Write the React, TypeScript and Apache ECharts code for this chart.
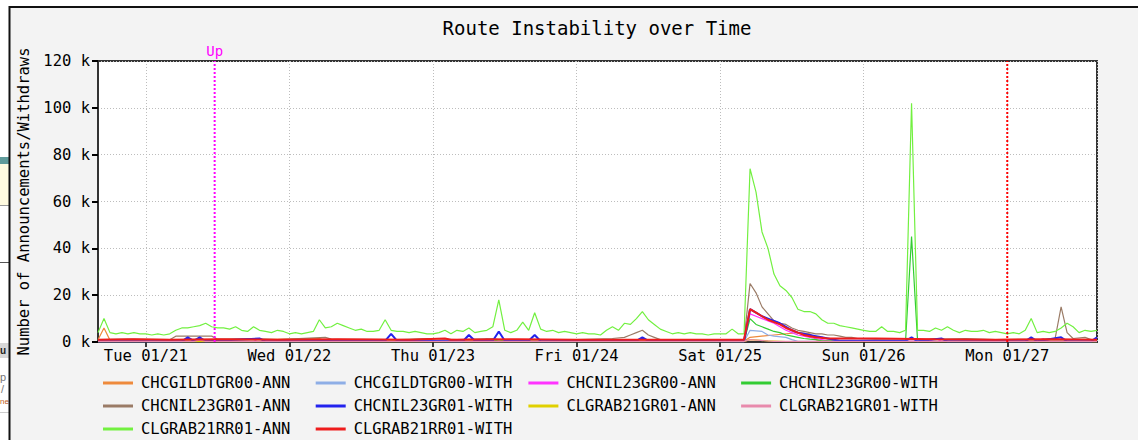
import React, { useEffect, useRef } from 'react';
import * as echarts from 'echarts';

const FONT = "'DejaVu Sans Mono', monospace";
const HOUR = 3600000;
const T0 = Date.UTC(2003, 0, 20, 16, 0); // Mon 01/20 16:00, left edge
const T_END = T0 + 167 * HOUR;
const UP_TIME = Date.UTC(2003, 0, 21, 11, 30);
const NOW_TIME = Date.UTC(2003, 0, 27, 0, 0);
const DAY_NAMES = ['Sun', 'Mon', 'Tue', 'Wed', 'Thu', 'Fri', 'Sat'];

const TITLE = 'Route Instability over Time';
const Y_NAME = 'Number of Announcements/Withdraws';
const Y_MAX = 120;
const Y_STEP = 20;

const SERIES_NAMES = [
  'CHCGILDTGR00-ANN', 'CHCGILDTGR00-WITH', 'CHCNIL23GR00-ANN', 'CHCNIL23GR00-WITH',
  'CHCNIL23GR01-ANN', 'CHCNIL23GR01-WITH', 'CLGRAB21GR01-ANN', 'CLGRAB21GR01-WITH',
  'CLGRAB21RR01-ANN', 'CLGRAB21RR01-WITH',
];
const SERIES_COLORS = [
  '#ee8a3c', '#8eaee6', '#ff33ff', '#33cc33',
  '#9a7b66', '#2222ee', '#e0d000', '#e88aac',
  '#72f040', '#ee1c1c',
];

// values in thousands; sparse samples [hour from left edge, value]
const chcgildtgr00Ann = [[0, 1], [1, 6], [2, 0.8], [12, 0.5], [37, 1.5], [38, 0.5], [65, 0.5], [66, 1], [67, 0.5], [108, 0.3], [109, 2], [113, 3], [117, 4], [119, 3.5], [120, 1], [121, 0.3], [167, 0.3]];
const chcgildtgr00With = [[0, 0.2], [108, 0.2], [109, 5], [111, 4.5], [112, 3], [113, 2.5], [115, 2], [116, 1], [117, 0.3], [167, 0.2]];
const chcnil23gr00Ann = [[0, 0.3], [26, 0.3], [27, 1.5], [28, 0.3], [64, 0.3], [65, 1.5], [66, 0.3], [108, 0.3], [109, 12], [110, 11], [111, 10], [112, 9], [113, 8], [114, 6.5], [115, 5], [116, 4], [117, 3], [118, 2.5], [119, 2], [120, 1.5], [121, 1], [122, 0.5], [139, 0.3], [140, 1.5], [141, 0.3], [157, 0.3], [158, 1.5], [159, 0.3], [167, 0.3]];
const chcnil23gr00With = [[0, 0.3], [66, 0.3], [67, 1], [68, 0.3], [108, 0.3], [109, 10], [110, 7.5], [111, 6.5], [112, 5.5], [113, 4.5], [114, 4], [115, 3], [116, 2.5], [117, 2], [118, 1.5], [119, 1.2], [120, 1], [121, 0.5], [135, 0.5], [136, 45], [137, 0.8], [141, 1.5], [142, 0.3], [167, 0.3]];
const chcnil23gr01Ann = [[0, 1], [5, 1.2], [12, 1], [13, 2.5], [19, 2.5], [20, 1.2], [26, 1.5], [30, 1], [38, 2], [39, 1.2], [50, 1], [55, 1.5], [60, 1], [66, 1.5], [67, 1], [80, 1], [86, 1.5], [88, 2], [89, 3], [90, 4], [91, 5], [92, 3], [93, 2], [94, 1], [108, 1], [109, 25], [110, 21], [111, 15], [112, 12], [113, 9], [114, 8], [115, 7.5], [116, 6], [117, 5], [118, 4.5], [119, 4], [120, 3.5], [121, 3.5], [122, 3], [123, 3], [124, 2.5], [125, 2], [126, 2], [127, 1.5], [130, 1.2], [136, 1.5], [137, 1], [145, 1.5], [150, 1], [158, 1.2], [160, 1.5], [161, 15], [162, 4], [163, 1.5], [165, 2], [166, 1], [167, 1]];
const chcnil23gr01With = [[0, 0.3], [14, 0.3], [15, 2], [16, 0.5], [17, 2], [18, 0.3], [27, 1.5], [28, 0.3], [48, 0.5], [49, 3.5], [50, 0.5], [61, 0.3], [62, 3], [63, 0.5], [66, 0.5], [67, 4.5], [68, 0.5], [72, 0.5], [73, 3], [74, 0.3], [90, 0.5], [91, 2], [92, 0.5], [108, 0.3], [109, 14], [110, 12.5], [111, 11], [112, 10], [113, 9], [114, 8], [115, 6.5], [116, 5], [117, 4], [118, 3.5], [119, 3], [120, 2.5], [121, 2], [122, 1.5], [123, 1], [124, 0.5], [135, 0.5], [136, 2], [137, 0.3], [141, 1.5], [142, 0.3], [155, 0.3], [156, 2], [157, 0.3], [161, 2], [162, 0.3], [166, 0.3], [167, 2]];
const clgrab21gr01Ann = [[0, 0.2], [108, 0.2], [109, 1], [112, 0.5], [115, 0.2], [167, 0.2]];
const clgrab21gr01With = [[0, 0.3], [16, 0.3], [17, 0.8], [18, 0.3], [108, 0.3], [109, 1], [113, 0.3], [167, 0.3]];
// hourly samples h0..h167
const clgrab21rr01Ann = [
  4, 10, 4, 3.5, 4, 3.5, 4, 3.5,
  3.5, 3, 3.5, 3, 3.5, 5, 6, 6,
  6.5, 7, 8, 6.5, 6, 6, 5.5, 6.5,
  5, 4.5, 6.5, 5, 4.5, 4, 5, 4.5,
  3.5, 4, 3.5, 4, 4.5, 9.5, 6, 6.5,
  8, 7, 6, 5, 5.5, 4.5, 4.5, 5,
  9.5, 5, 4.5, 4.5, 4, 4.5, 4, 3.5,
  3.5, 4, 5, 3.5, 5, 4.5, 6, 4,
  4.5, 5, 6.5, 18, 5, 4, 5, 8.5,
  5, 12.5, 5.5, 4.5, 5, 4, 4.5, 4,
  3.5, 4, 3.5, 3.5, 3, 5, 6.5, 5,
  8, 7.5, 10, 13, 9.5, 7.5, 5.5, 4.5,
  3.5, 4, 3.5, 4, 3.5, 3.5, 3, 3.5,
  3.5, 3.5, 5.5, 3.5, 3.5, 74, 64, 47,
  40, 29, 24, 22, 19, 14, 13, 13,
  12, 9.5, 8, 8, 7, 6.5, 6, 5.5,
  5, 4.5, 4.5, 6.5, 4.5, 4.5, 4, 5,
  102, 5, 5, 4.5, 6, 5, 6.5, 5,
  4, 5, 4.5, 4.5, 5, 4, 4.5, 4,
  3.5, 4, 3.5, 5, 10, 4, 4.5, 4,
  4.5, 6, 8, 6.5, 4, 5, 4.5, 5,
];
const clgrab21rr01With = [[0, 1], [6, 1.2], [12, 1], [20, 1.2], [30, 1], [40, 1.2], [52, 1], [58, 1.5], [59, 1], [70, 1.2], [80, 1], [95, 1], [104, 1], [108, 1], [109, 14], [110, 12.5], [111, 11], [112, 9.5], [113, 8.5], [114, 7.5], [115, 6], [116, 5], [117, 4], [118, 3], [119, 2.5], [120, 2], [122, 1.5], [130, 1.5], [140, 1.2], [150, 1], [160, 1.2], [167, 1]];

const SPARSE_DATA: number[][][] = [
  chcgildtgr00Ann, chcgildtgr00With, chcnil23gr00Ann, chcnil23gr00With,
  chcnil23gr01Ann, chcnil23gr01With, clgrab21gr01Ann, clgrab21gr01With,
  clgrab21rr01Ann.map((v, i) => [i, v]), clgrab21rr01With,
];

// vertical rules: [time, color, label]
const RULES: [number, string, string][] = [
  [UP_TIME, '#ff00ff', 'Up'],
  [NOW_TIME, '#ff0000', ''],
];

const pad2 = (n: number) => (n < 10 ? '0' + n : '' + n);

export default function App() {
  const ref = useRef<HTMLDivElement>(null);
  useEffect(() => {
    if (!ref.current) return;
    const chart = echarts.init(ref.current, undefined, { renderer: 'svg' });
    const gridDash = { color: '#bdbdbd', type: [1, 2], width: 1 };
    const series: any[] = SERIES_NAMES.map((name, i) => ({
      name,
      type: 'line',
      showSymbol: false,
      symbol: 'none',
      color: SERIES_COLORS[i],
      lineStyle: { width: i === 9 || i === 5 ? 2 : 1.2, color: SERIES_COLORS[i] },
      data: SPARSE_DATA[i].map(([h, v]) => [T0 + h * HOUR, v]),
      silent: true,
    }));
    RULES.forEach(([t, color, text], k) => {
      series.push({
        name: 'rule' + k,
        type: 'line',
        silent: true,
        clip: false,
        symbol: 'circle',
        symbolSize: 0.01,
        showSymbol: true,
        color,
        itemStyle: { color },
        lineStyle: { color, type: [2, 2], width: 2 },
        z: 5,
        data: [
          [t, 0],
          {
            value: [t, Y_MAX],
            label: {
              show: text !== '',
              position: 'top',
              distance: 3,
              formatter: text,
              color,
              fontFamily: FONT,
              fontSize: 14,
            },
          },
        ],
      });
    });
    const legends = SERIES_NAMES.map((name, i) => ({
      data: [name],
      left: 103 + (i % 4) * 212.7,
      top: 375 + Math.floor(i / 4) * 23,
      icon: 'rect',
      itemWidth: 30,
      itemHeight: 3,
      padding: 0,
      selectedMode: false,
      textStyle: { fontFamily: FONT, fontSize: 15.5, color: '#000', padding: [0, 0, 0, 3] },
    }));
    chart.setOption({
      animation: false,
      useUTC: true,
      backgroundColor: '#f3f3f3',
      title: {
        text: TITLE,
        left: 597,
        top: 18,
        padding: 0,
        textAlign: 'center',
        textStyle: { fontFamily: FONT, fontSize: 19, fontWeight: 'normal', color: '#000' },
      },
      legend: legends,
      grid: {
        left: 98, top: 61, width: 999, height: 281,
        show: true, backgroundColor: '#ffffff', borderColor: '#333', borderWidth: 2,
        containLabel: false,
      },
      xAxis: {
        type: 'time',
        min: T0,
        max: T_END,
        minInterval: 24 * HOUR,
        maxInterval: 24 * HOUR,
        axisLine: { show: true, lineStyle: { color: '#333', width: 2 } },
        axisTick: { show: true, length: 5, lineStyle: { color: '#000', width: 1.5 } },
        splitLine: { show: true, lineStyle: gridDash },
        axisLabel: {
          showMinLabel: false,
          showMaxLabel: false,
          margin: 6,
          fontFamily: FONT,
          fontSize: 15.5,
          color: '#000',
          formatter: (val: number) => {
            const d = new Date(val);
            return DAY_NAMES[d.getUTCDay()] + ' ' + pad2(d.getUTCMonth() + 1) + '/' + pad2(d.getUTCDate());
          },
        },
      },
      yAxis: {
        type: 'value',
        min: 0,
        max: Y_MAX,
        interval: Y_STEP,
        name: Y_NAME,
        nameLocation: 'middle',
        nameGap: 62,
        nameTextStyle: { fontFamily: FONT, fontSize: 15.5, color: '#000' },
        axisLine: { show: true, lineStyle: { color: '#333', width: 2 } },
        axisTick: { show: true, length: 6, lineStyle: { color: '#000', width: 2 } },
        splitLine: { show: true, lineStyle: gridDash },
        axisLabel: {
          margin: 8,
          fontFamily: FONT,
          fontSize: 15.5,
          color: '#000',
          formatter: (v: number) => v + ' k',
        },
      },
      series,
      graphic: [
        { type: 'rect', shape: { x: 0, y: 0, width: 1138, height: 6 }, style: { fill: '#ffffff' }, z: 100 },
        { type: 'rect', shape: { x: 0, y: 0, width: 9, height: 440 }, style: { fill: '#ffffff' }, z: 100 },
        { type: 'rect', shape: { x: 0, y: 157, width: 9, height: 7 }, style: { fill: '#5f9b9b' }, z: 101 },
        { type: 'rect', shape: { x: 0, y: 164, width: 9, height: 41 }, style: { fill: '#fffbe0' }, z: 101 },
        { type: 'line', shape: { x1: 0, y1: 205.5, x2: 9, y2: 205.5 }, style: { stroke: '#9a9a9a', lineWidth: 1 }, z: 101 },
        { type: 'line', shape: { x1: 0, y1: 262.5, x2: 9, y2: 262.5 }, style: { stroke: '#555', lineWidth: 1 }, z: 101 },
        { type: 'rect', shape: { x: 0, y: 343, width: 9, height: 15 }, style: { fill: '#d8d8d8' }, z: 101 },
        { type: 'text', x: 0, y: 345, style: { text: 'u', fill: '#222', font: 'bold 10px sans-serif' }, z: 102 },
        { type: 'text', x: 0, y: 371, style: { text: 'p', fill: '#777', font: '11px sans-serif' }, z: 102 },
        { type: 'text', x: 1, y: 383, style: { text: '/', fill: '#777', font: '11px sans-serif' }, z: 102 },
        { type: 'text', x: 0, y: 397, style: { text: 'ne', fill: '#c0601a', font: '8px sans-serif' }, z: 102 },
        { type: 'line', shape: { x1: 0, y1: 412.5, x2: 9, y2: 412.5 }, style: { stroke: '#cccccc', lineWidth: 1 }, z: 101 },
        { type: 'polyline', shape: { points: [[9.5, 440], [9.5, 7], [1138, 7]] }, style: { stroke: '#111', lineWidth: 2, fill: 'none' }, z: 103 },
      ],
    });
    return () => chart.dispose();
  }, []);
  return <div ref={ref} style={{ position: 'absolute', left: 0, top: 0, width: 1138, height: 440 }} />;
}
